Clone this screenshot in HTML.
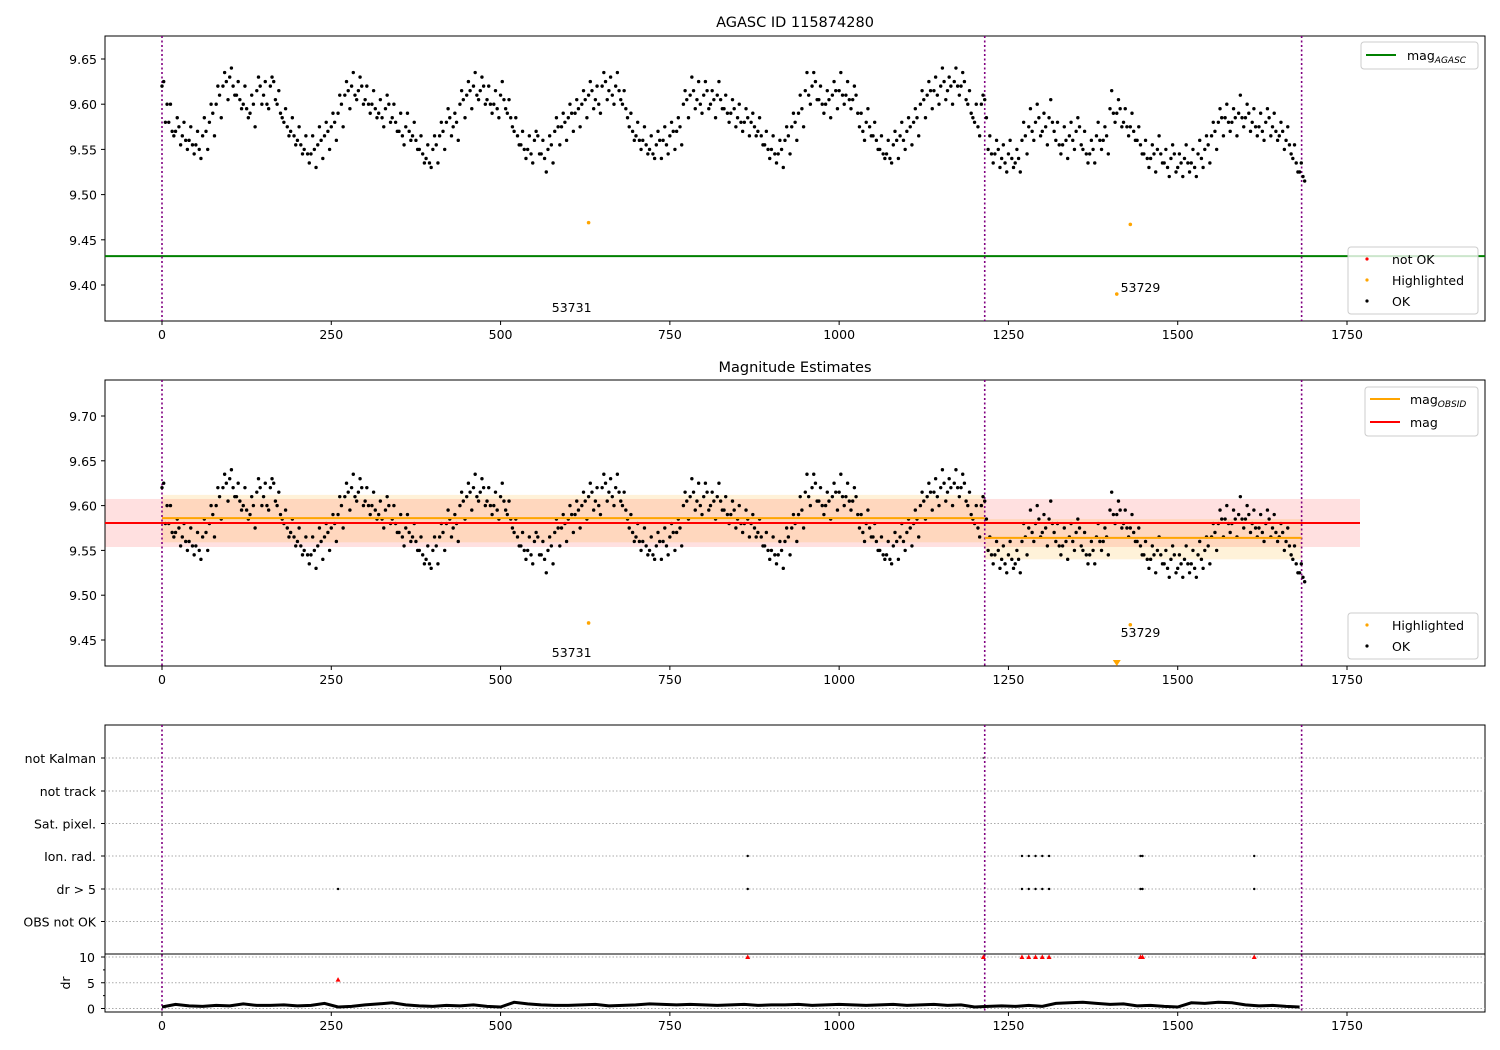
<!DOCTYPE html>
<html><head><meta charset="utf-8">
<style>
html,body{margin:0;padding:0;background:#fff;}
svg{display:block;font-family:"DejaVu Sans","Liberation Sans",sans-serif;}
</style></head>
<body>
<svg id="chart" width="1500" height="1050" viewBox="0 0 1500 1050" xmlns="http://www.w3.org/2000/svg"></svg>
<script>
// ---- data ----
const sampleStep = 10;
const magValues = [9.62,9.58,9.57,9.565,9.56,9.555,9.565,9.58,9.60,9.62,9.63,9.61,9.60,9.59,9.615,9.61,9.62,9.60,9.58,9.57,
9.56,9.55,9.545,9.555,9.565,9.575,9.59,9.61,9.62,9.615,9.605,9.60,9.59,9.595,9.585,9.57,9.575,9.565,9.55,9.54,
9.55,9.565,9.58,9.575,9.60,9.61,9.62,9.615,9.605,9.60,9.61,9.59,9.57,9.555,9.55,9.56,9.545,9.55,9.57,9.575,
9.585,9.59,9.60,9.61,9.605,9.62,9.615,9.62,9.60,9.575,9.565,9.56,9.55,9.555,9.56,9.565,9.57,9.60,9.61,9.605,
9.61,9.60,9.61,9.595,9.59,9.585,9.58,9.58,9.57,9.555,9.55,9.545,9.56,9.575,9.59,9.615,9.62,9.605,9.60,9.61,
9.615,9.61,9.605,9.575,9.58,9.565,9.55,9.545,9.555,9.565,9.57,9.58,9.60,9.61,9.615,9.62,9.615,9.625,9.62,9.60,
9.58,9.60,9.55,9.545,9.54,9.545,9.535,9.56,9.575,9.58,9.57,9.585,9.56,9.555,9.565,9.57,9.55,9.545,9.565,9.56,
9.595,9.59,9.58,9.575,9.56,9.545,9.54,9.55,9.535,9.54,9.53,9.54,9.535,9.545,9.55,9.565,9.58,9.585,9.58,9.59,
9.585,9.58,9.575,9.58,9.575,9.565,9.56,9.54,9.525];
const magFine = [9.58,9.57,9.575,9.56,9.555,9.55,9.57,9.59,9.61,9.625,9.62,9.605,9.595,9.60,9.62,9.60,9.625,9.59,9.575,9.565,
9.555,9.545,9.55,9.56,9.57,9.58,9.60,9.615,9.61,9.62,9.60,9.595,9.585,9.60,9.58,9.565,9.57,9.56,9.545,9.535,
9.555,9.57,9.585,9.58,9.605,9.615,9.61,9.62,9.60,9.595,9.605,9.585,9.565,9.55,9.545,9.565,9.54,9.555,9.575,9.58,
9.59,9.595,9.605,9.615,9.60,9.625,9.61,9.615,9.595,9.57,9.56,9.555,9.545,9.56,9.555,9.57,9.575,9.605,9.615,9.60,
9.615,9.605,9.605,9.59,9.595,9.58,9.585,9.575,9.565,9.55,9.545,9.55,9.565,9.58,9.595,9.61,9.625,9.60,9.605,9.615,
9.61,9.605,9.61,9.57,9.575,9.56,9.545,9.54,9.56,9.56,9.575,9.585,9.605,9.615,9.61,9.625,9.62,9.62,9.625,9.59,
9.575,9.605,9.545,9.55,9.535,9.54,9.54,9.565,9.57,9.585,9.575,9.58,9.555,9.56,9.56,9.575,9.545,9.55,9.56,9.565,
9.59,9.595,9.575,9.57,9.555,9.54,9.545,9.545,9.53,9.545,9.535,9.535,9.53,9.54,9.555,9.57,9.585,9.58,9.585,9.585,
9.59,9.575,9.57,9.585,9.57,9.57,9.555,9.535,9.52];
const magUpper = [9.625,9.60,9.585,9.58,9.575,9.57,9.585,9.60,9.62,9.635,9.64,9.625,9.62,9.61,9.63,9.625,9.63,9.615,9.595,9.585,
9.575,9.565,9.565,9.575,9.58,9.59,9.61,9.625,9.635,9.63,9.62,9.615,9.605,9.61,9.60,9.59,9.59,9.58,9.565,9.555,
9.565,9.58,9.595,9.59,9.615,9.625,9.635,9.63,9.62,9.615,9.625,9.605,9.585,9.57,9.565,9.57,9.56,9.565,9.585,9.59,
9.60,9.605,9.615,9.625,9.62,9.635,9.63,9.635,9.615,9.59,9.58,9.575,9.565,9.57,9.575,9.58,9.585,9.615,9.63,9.625,
9.625,9.615,9.625,9.61,9.605,9.60,9.595,9.59,9.585,9.57,9.565,9.56,9.575,9.59,9.61,9.635,9.635,9.62,9.615,9.625,
9.635,9.625,9.62,9.59,9.595,9.58,9.565,9.56,9.57,9.58,9.585,9.595,9.615,9.625,9.63,9.64,9.63,9.64,9.635,9.615,
9.60,9.61,9.565,9.56,9.555,9.56,9.55,9.58,9.595,9.60,9.59,9.605,9.58,9.575,9.58,9.585,9.57,9.56,9.58,9.575,
9.615,9.605,9.595,9.59,9.575,9.56,9.555,9.565,9.55,9.555,9.545,9.555,9.55,9.56,9.565,9.58,9.595,9.60,9.595,9.61,
9.60,9.595,9.59,9.595,9.59,9.58,9.575,9.555,9.535];
const magLower = [9.60,9.565,9.555,9.55,9.545,9.54,9.55,9.565,9.585,9.605,9.61,9.595,9.585,9.575,9.60,9.595,9.605,9.585,9.565,9.555,
9.545,9.535,9.53,9.54,9.55,9.56,9.575,9.595,9.605,9.60,9.59,9.585,9.575,9.58,9.57,9.555,9.56,9.55,9.535,9.53,
9.535,9.55,9.565,9.56,9.585,9.595,9.605,9.60,9.59,9.585,9.595,9.575,9.555,9.54,9.535,9.545,9.525,9.535,9.555,9.56,
9.57,9.575,9.585,9.595,9.59,9.605,9.60,9.605,9.585,9.56,9.55,9.545,9.54,9.54,9.545,9.55,9.555,9.585,9.595,9.59,
9.595,9.585,9.595,9.58,9.575,9.57,9.565,9.565,9.555,9.54,9.535,9.53,9.545,9.56,9.575,9.60,9.605,9.59,9.585,9.595,
9.60,9.595,9.59,9.56,9.565,9.55,9.54,9.535,9.54,9.55,9.555,9.565,9.585,9.595,9.60,9.605,9.60,9.61,9.605,9.585,
9.565,9.585,9.535,9.53,9.525,9.53,9.525,9.545,9.56,9.565,9.555,9.57,9.545,9.54,9.55,9.555,9.535,9.535,9.55,9.545,
9.58,9.575,9.565,9.56,9.545,9.53,9.525,9.535,9.52,9.525,9.52,9.525,9.52,9.53,9.535,9.55,9.565,9.57,9.565,9.575,
9.57,9.565,9.56,9.565,9.56,9.55,9.545,9.525,9.515];
const highlightIdx = [630,1430,1410];
const highlightMag = [9.469,9.467,9.390];
const obsLabels = ["53731","53729"];
const obsLabelIdx = [605,1445];
const magAgasc = 9.432;
const magMean = 9.5806, magStd = 0.0268;
const obsStart = [0,1215], obsEnd = [1215,1683];
const obsMean = [9.586,9.564], obsLo = [9.559,9.540], obsHi = [9.612,9.585];
const obsBoundaries = [0,1215,1683];
const xTicks = [0,250,500,750,1000,1250,1500,1750];
const topTicks = [9.40,9.45,9.50,9.55,9.60,9.65];
const midTicks = [9.45,9.50,9.55,9.60,9.65,9.70];
const flagNames = ["not Kalman","not track","Sat. pixel.","Ion. rad.","dr > 5","OBS not OK"];
const flagIonIdx = [865,1270,1280,1290,1300,1310,1445,1448,1613];
const flagDrIdx = [260,865,1270,1280,1290,1300,1310,1445,1448,1613];
const flagKalmanIdx = [1213];
const drStep = 20;
const drValues = [0.3,0.8,0.5,0.4,0.6,0.5,0.9,0.6,0.6,0.7,0.5,0.6,1.0,0.3,0.4,0.7,0.9,1.1,0.7,0.5,0.4,0.6,0.5,0.7,0.4,0.3,1.2,0.9,0.7,0.6,
0.6,0.7,0.8,0.5,0.6,0.7,0.9,0.8,0.7,0.8,0.7,0.6,0.7,0.8,0.6,0.7,0.7,0.8,0.6,0.7,0.8,0.7,0.6,0.7,0.8,0.6,0.7,0.8,0.6,0.7,
0.3,0.4,0.5,0.4,0.6,0.4,1.0,1.1,1.2,1.0,0.8,0.9,0.5,0.6,0.4,0.3,1.1,1.0,1.2,1.1,0.7,0.5,0.6,0.4,0.3];
const drHighIdx = [260,865,1213,1270,1280,1290,1300,1310,1445,1448,1613];
const drHighVal = [5.6,10,10,10,10,10,10,10,10,10,10];

// ---- scales ----
const X0=105,X1=1485;
const xs = v => 162 + v*(1347-162)/1750;
const yTop = v => 59 + (9.65-v)*904;
const yMid = v => 416 + (9.70-v)*896;
const yDr = v => 1008.5 - v*5.15;
const flagY = [758,791,823.5,856,889,921.5];

const svg = document.getElementById('chart');
const NS='http://www.w3.org/2000/svg';
function el(tag, attrs, parent){const e=document.createElementNS(NS,tag);for(const k in attrs)e.setAttribute(k,attrs[k]);(parent||svg).appendChild(e);return e;}
function txt(s, attrs, parent){const e=el('text',attrs,parent);e.textContent=s;return e;}

function axesFrame(name){
  const g=el('g',{});
  
  
  return g;
}
function xAxis(g,bottom){
  xTicks.forEach(t=>{const x=xs(t);
    el('line',{x1:x,x2:x,y1:bottom,y2:bottom+4,stroke:'#000'},g);
    const l=txt(String(t),{x:x,y:bottom+18,'font-size':12.5,'text-anchor':'middle'},g);
    
    
  });
}
function vlines(g,top,bottom){
  obsBoundaries.forEach(b=>{const ln=el('line',{x1:xs(b),x2:xs(b),y1:top,y2:bottom,stroke:'#800080','stroke-width':1.6,'stroke-dasharray':'2,2.5'},g);
    
    });
}
function dotSeries(g,arr,off,ys,r,color,name){
  arr.forEach((v,i)=>{const c=el('circle',{cx:xs(i*sampleStep+off),cy:ys(v),r:r,fill:color},g);
    
    });
}
function dots(g,ys,r,color,name){
  dotSeries(g,magValues,0,ys,r,color,name);
  dotSeries(g,magUpper,2.5,ys,r,color,name);
  dotSeries(g,magFine,5,ys,r,color,name);
  dotSeries(g,magLower,7.5,ys,r,color,name);
}

// ===== Panel 1 =====
const p1=axesFrame('top-panel');
const t1=txt('AGASC ID 115874280',{x:795,y:27,'font-size':14.5,'text-anchor':'middle'},p1);


el('rect',{x:X0,y:36,width:X1-X0,height:285,fill:'none',stroke:'#000'},p1);
topTicks.forEach(t=>{const y=yTop(t);el('line',{x1:X0-4,x2:X0,y1:y,y2:y,stroke:'#000'},p1);
  const l=txt(t.toFixed(2),{x:X0-8,y:y+5,'font-size':12.5,'text-anchor':'end'},p1);
  
  });
xAxis(p1,321);
const ag=el('line',{x1:X0,x2:X1,y1:yTop(magAgasc),y2:yTop(magAgasc),stroke:'#008000','stroke-width':2},p1);


vlines(p1,36,321);
dots(p1,yTop,1.7,'#000','ok-point');
highlightIdx.forEach((ix,i)=>{const c=el('circle',{cx:xs(ix),cy:yTop(highlightMag[i]),r:1.8,fill:'#ffa500'},p1);
  
  });
const a1=txt(obsLabels[0],{x:xs(obsLabelIdx[0]),y:312,'font-size':12.5,'text-anchor':'middle'},p1);


const a2=txt(obsLabels[1],{x:xs(obsLabelIdx[1]),y:292,'font-size':12.5,'text-anchor':'middle'},p1);


const lg1=el('g',{},p1);


el('rect',{x:1361,y:42,width:117,height:27,rx:3,fill:'#fff','fill-opacity':0.8,stroke:'#ccc'},lg1);
el('line',{x1:1366,x2:1396,y1:55,y2:55,stroke:'#008000','stroke-width':2},lg1);
const m1=txt('mag',{x:1407,y:60,'font-size':12.5},lg1);
const s1=el('tspan',{'font-size':9,'font-style':'italic',dy:3},m1); s1.textContent='AGASC';
const lg2=el('g',{},p1);


el('rect',{x:1348,y:247,width:130,height:67,rx:3,fill:'#fff','fill-opacity':0.8,stroke:'#ccc'},lg2);
[['not OK','#f00',259],['Highlighted','#ffa500',280],['OK','#000',301]].forEach(([n,c,y])=>{
  el('circle',{cx:1367,cy:y,r:1.6,fill:c},lg2);
  const l=txt(n,{x:1392,y:y+5,'font-size':12.5},lg2);
  
  
});

// ===== Panel 2 =====
const p2=axesFrame('mid-panel');
const t2=txt('Magnitude Estimates',{x:795,y:372,'font-size':14.5,'text-anchor':'middle'},p2);


const pink=el('rect',{x:X0,y:yMid(magMean+magStd),width:1360-X0,height:yMid(magMean-magStd)-yMid(magMean+magStd),fill:'#ff0000','fill-opacity':0.12},p2);


obsStart.forEach((s,i)=>{
  const b=el('rect',{x:xs(s),y:yMid(obsHi[i]),width:xs(obsEnd[i])-xs(s),height:yMid(obsLo[i])-yMid(obsHi[i]),fill:'#ffa500','fill-opacity':0.15},p2);
  
  
});
el('rect',{x:X0,y:380,width:X1-X0,height:286,fill:'none',stroke:'#000'},p2);
midTicks.forEach(t=>{const y=yMid(t);el('line',{x1:X0-4,x2:X0,y1:y,y2:y,stroke:'#000'},p2);
  const l=txt(t.toFixed(2),{x:X0-8,y:y+5,'font-size':12.5,'text-anchor':'end'},p2);
  
  });
xAxis(p2,666);
vlines(p2,380,666);
dots(p2,yMid,1.7,'#000','ok-point');
obsStart.forEach((s,i)=>{
  const l=el('line',{x1:xs(s),x2:xs(obsEnd[i]),y1:yMid(obsMean[i]),y2:yMid(obsMean[i]),stroke:'#ffa500','stroke-width':2},p2);
  
  
});
const red=el('line',{x1:X0,x2:1360,y1:yMid(magMean),y2:yMid(magMean),stroke:'#f00','stroke-width':2},p2);


[0,1].forEach(i=>{const c=el('circle',{cx:xs(highlightIdx[i]),cy:yMid(highlightMag[i]),r:1.8,fill:'#ffa500'},p2);
  
  });
const tri=el('polygon',{points:`${xs(1410)-4},660 ${xs(1410)+4},660 ${xs(1410)},666`,fill:'#ffa500'},p2);


const a3=txt(obsLabels[0],{x:xs(obsLabelIdx[0]),y:657,'font-size':12.5,'text-anchor':'middle'},p2);


const a4=txt(obsLabels[1],{x:xs(obsLabelIdx[1]),y:637,'font-size':12.5,'text-anchor':'middle'},p2);


const lg3=el('g',{},p2);


el('rect',{x:1365,y:387,width:113,height:49,rx:3,fill:'#fff','fill-opacity':0.8,stroke:'#ccc'},lg3);
el('line',{x1:1370,x2:1400,y1:399,y2:399,stroke:'#ffa500','stroke-width':2},lg3);
const m2=txt('mag',{x:1410,y:404,'font-size':12.5},lg3);
const s2=el('tspan',{'font-size':9,'font-style':'italic',dy:3},m2); s2.textContent='OBSID';
el('line',{x1:1370,x2:1400,y1:422,y2:422,stroke:'#f00','stroke-width':2},lg3);
txt('mag',{x:1410,y:427,'font-size':12.5},lg3);
const lg4=el('g',{},p2);


el('rect',{x:1348,y:613,width:130,height:46,rx:3,fill:'#fff','fill-opacity':0.8,stroke:'#ccc'},lg4);
[['Highlighted','#ffa500',625],['OK','#000',646]].forEach(([n,c,y])=>{
  el('circle',{cx:1367,cy:y,r:1.6,fill:c},lg4);
  const l=txt(n,{x:1392,y:y+5,'font-size':12.5},lg4);
  
  
});

// ===== Panel 3 =====
const p3=axesFrame('flags-panel');
el('rect',{x:X0,y:725,width:X1-X0,height:287,fill:'none',stroke:'#000'},p3);
el('line',{x1:X0,x2:X1,y1:954,y2:954,stroke:'#000'},p3);
flagNames.forEach((n,i)=>{const y=flagY[i];
  el('line',{x1:X0,x2:X1,y1:y,y2:y,stroke:'#aaa','stroke-dasharray':'1.5,2'},p3);
  el('line',{x1:X0-4,x2:X0,y1:y,y2:y,stroke:'#000'},p3);
  const l=txt(n,{x:X0-9,y:y+5,'font-size':12.5,'text-anchor':'end'},p3);
  
  
});
[0,5,10].forEach(t=>{const y=yDr(t);
  el('line',{x1:X0,x2:X1,y1:y,y2:y,stroke:'#aaa','stroke-dasharray':'1.5,2'},p3);
  el('line',{x1:X0-4,x2:X0,y1:y,y2:y,stroke:'#000'},p3);
  const l=txt(String(t),{x:X0-10,y:y+5,'font-size':12.5,'text-anchor':'end'},p3);
  
  
});
[2.5,7.5].forEach(t=>el('line',{x1:X0-2,x2:X0,y1:yDr(t),y2:yDr(t),stroke:'#000'},p3));
const drl=txt('dr',{x:0,y:0,'font-size':12.5,'text-anchor':'middle',transform:'translate(70,983) rotate(-90)'},p3);


xAxis(p3,1012);
vlines(p3,725,1012);
flagIonIdx.forEach(ix=>{const c=el('circle',{cx:xs(ix),cy:flagY[3],r:1.2,fill:'#000'},p3);
  
  });
flagDrIdx.forEach(ix=>{const c=el('circle',{cx:xs(ix),cy:flagY[4],r:1.2,fill:'#000'},p3);
  
  });
flagKalmanIdx.forEach(ix=>{const c=el('circle',{cx:xs(ix),cy:flagY[0],r:1,fill:'#555'},p3);
  
  });
let pts=drValues.map((v,i)=>`${xs(i*drStep).toFixed(1)},${yDr(v).toFixed(1)}`).join(' ');
const drLine=el('polyline',{points:pts,fill:'none',stroke:'#000','stroke-width':3},p3);


drHighIdx.forEach((ix,i)=>{const v=drHighVal[i];
  const s=el('polygon',{points:`${xs(ix)-2.5},${yDr(v)+2} ${xs(ix)+2.5},${yDr(v)+2} ${xs(ix)},${yDr(v)-2.5}`,fill:'#f00'},p3);
  
  });
</script>
</body></html>
